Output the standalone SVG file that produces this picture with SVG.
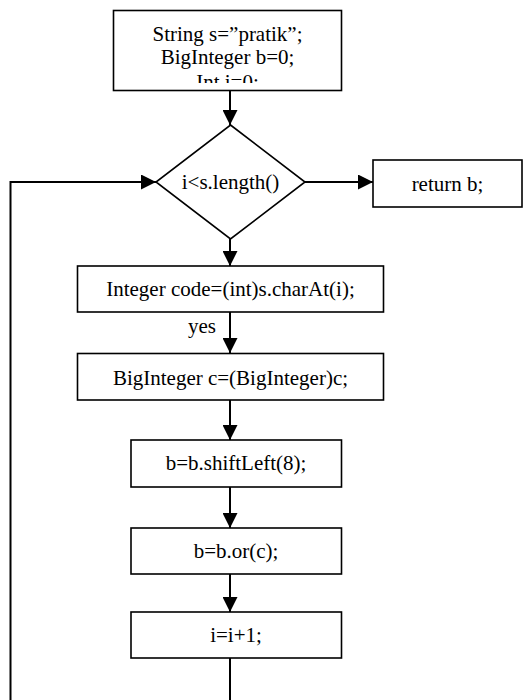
<svg xmlns="http://www.w3.org/2000/svg" width="524" height="700" viewBox="0 0 524 700">
  <style>
    .box { fill: #ffffff; stroke: #000000; stroke-width: 1.6; }
    .wire { fill: none; stroke: #000000; stroke-width: 2; }
    .label { font-family: "Liberation Serif", "Times New Roman", serif; font-size: 21px; fill: #000000; text-anchor: middle; }
  </style>
  <defs>
    <marker id="arrow" markerUnits="userSpaceOnUse" markerWidth="15" markerHeight="15" refX="15" refY="7.5" orient="auto">
      <path d="M0,0 L15,7.5 L0,15 Z" fill="#000000"/>
    </marker>
    <clipPath id="init-clip">
      <rect x="114" y="11" width="227" height="72"/>
    </clipPath>
  </defs>

  <rect width="524" height="700" fill="#ffffff"/>

  <!-- connectors -->
  <g id="connectors">
    <line class="wire" x1="230" y1="91" x2="230" y2="125" marker-end="url(#arrow)"/>
    <line class="wire" x1="305" y1="182" x2="373" y2="182" marker-end="url(#arrow)"/>
    <line class="wire" x1="230" y1="239" x2="230" y2="266" marker-end="url(#arrow)"/>
    <line class="wire" x1="230" y1="312" x2="230" y2="353" marker-end="url(#arrow)"/>
    <line class="wire" x1="230" y1="400" x2="230" y2="440" marker-end="url(#arrow)"/>
    <line class="wire" x1="230" y1="487" x2="230" y2="528" marker-end="url(#arrow)"/>
    <line class="wire" x1="230" y1="574" x2="230" y2="612" marker-end="url(#arrow)"/>
    <!-- loop back from i=i+1 to the condition -->
    <path class="wire" d="M230,658 V715 H10.5 V182 H156" marker-end="url(#arrow)"/>
    <text class="label" x="202" y="333">yes</text>
  </g>

  <g id="init">
    <rect class="box" x="113.5" y="10.5" width="228" height="80"/>
    <g clip-path="url(#init-clip)">
      <text class="label" x="227.5" y="41">String s=”pratik”;</text>
      <text class="label" x="227.5" y="64">BigInteger b=0;</text>
      <text class="label" x="227.5" y="89">Int i=0;</text>
    </g>
  </g>

  <g id="condition">
    <polygon class="box" points="230.5,125 305,182 230.5,239 156,182"/>
    <text class="label" x="230.5" y="189">i&lt;s.length()</text>
  </g>

  <g id="return">
    <rect class="box" x="373" y="160" width="149" height="47"/>
    <text class="label" x="447.5" y="191">return b;</text>
  </g>

  <g id="code">
    <rect class="box" x="77.5" y="266" width="306" height="46"/>
    <text class="label" x="230.5" y="296">Integer code=(int)s.charAt(i);</text>
  </g>

  <g id="bigint">
    <rect class="box" x="77.5" y="353.5" width="306" height="46.5"/>
    <text class="label" x="230.5" y="385">BigInteger c=(BigInteger)c;</text>
  </g>

  <g id="shift">
    <rect class="box" x="131" y="440" width="210.5" height="47"/>
    <text class="label" x="236" y="470">b=b.shiftLeft(8);</text>
  </g>

  <g id="or">
    <rect class="box" x="131" y="528" width="210.5" height="46"/>
    <text class="label" x="236" y="558">b=b.or(c);</text>
  </g>

  <g id="increment">
    <rect class="box" x="131" y="612" width="210.5" height="46"/>
    <text class="label" x="236" y="642">i=i+1;</text>
  </g>
</svg>
